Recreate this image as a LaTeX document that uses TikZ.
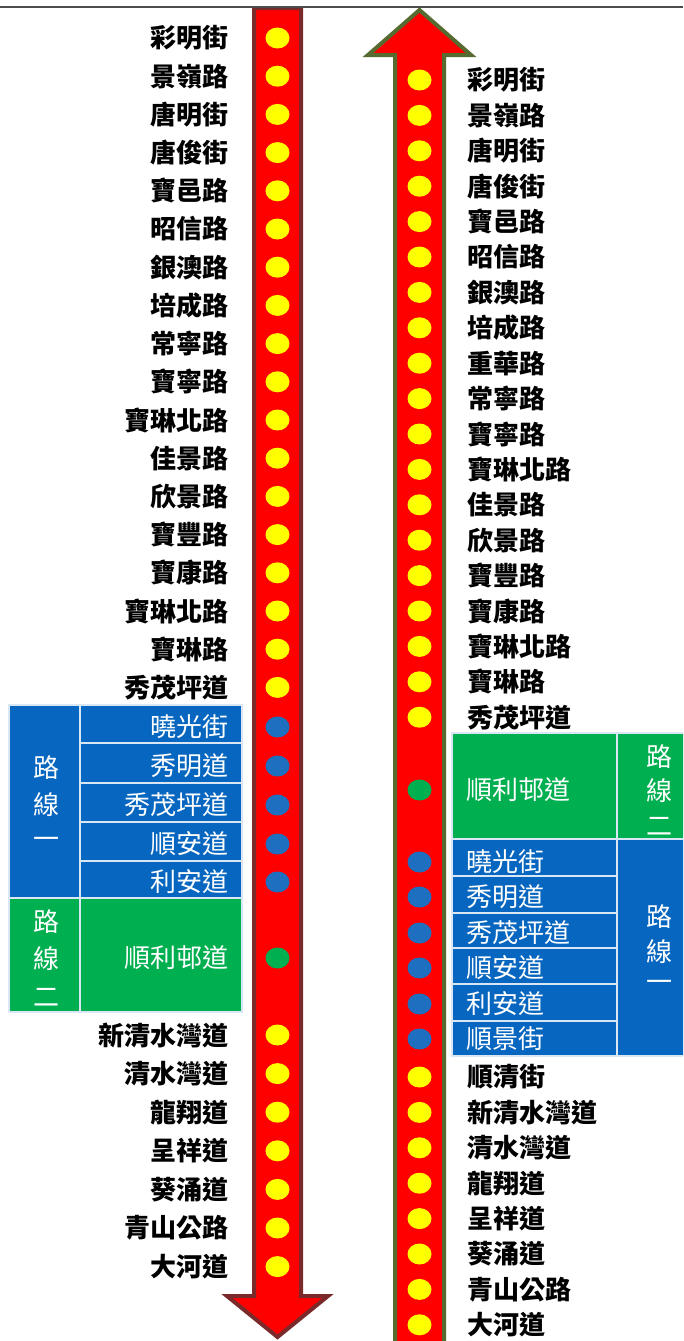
\documentclass[tikz,border=0pt]{standalone}
\usepackage{fontspec}
\newfontfamily\cjk{Noto Sans CJK TC}
\usetikzlibrary{shapes.geometric}
\definecolor{arrred}{HTML}{FF0000}
\definecolor{lborder}{HTML}{7A2A2A}
\definecolor{rborder}{HTML}{556B2F}
\definecolor{dotyellow}{HTML}{FFFF00}
\definecolor{dotblue}{HTML}{1F6FC0}
\definecolor{boxblue}{HTML}{0766BF}
\definecolor{boxgreen}{HTML}{00AF50}
\definecolor{cellline}{HTML}{D8E6F5}
\begin{document}
\begin{tikzpicture}[x=1pt,y=-1pt,
  lbl/.style={font=\cjk\bfseries\fontsize{26}{26}\selectfont, inner sep=0pt, text=black},
  wlbl/.style={font=\cjk\fontsize{26}{26}\selectfont, inner sep=0pt, text=white},
  dot/.style={ellipse, minimum width=24pt, minimum height=21pt, inner sep=0pt},
  ydot/.style={dot, fill=dotyellow},
  bdot/.style={dot, fill=dotblue},
  gdot/.style={dot, fill=boxgreen},
  bcell/.style={fill=boxblue, draw=cellline, line width=1.2pt},
  gcell/.style={fill=boxgreen, draw=cellline, line width=1.2pt}]
\useasboundingbox (0,0) rectangle (683,1341);
\clip (0,0) rectangle (683,1341);
\fill[white] (0,0) rectangle (683,1341);

% arrows
\draw[fill=arrred, draw=lborder, line width=4pt, line join=miter]
  (254,8) -- (301,8) -- (301,1296) -- (328,1296) -- (277.5,1337) -- (227,1296) -- (254,1296) -- cycle;
\draw[fill=arrred, draw=rborder, line width=4pt, line join=miter]
  (419.5,10) -- (471,55) -- (444,55) -- (444,1360) -- (395,1360) -- (395,55) -- (368,55) -- cycle;

% top line
\draw[gray!60!black, line width=1.5pt] (0,7) -- (683,7);

% ---------- left column ----------
\foreach \t [count=\i] in {彩明街,景嶺路,唐明街,唐俊街,寶邑路,昭信路,銀澳路,培成路,常寧路,寶寧路,寶琳北路,佳景路,欣景路,寶豐路,寶康路,寶琳北路,寶琳路,秀茂坪道}{
  \pgfmathsetmacro{\yy}{38+38.2*(\i-1)}
  \node[lbl, anchor=east] (L\i) at (229,\yy) {\t};
  \node[ydot] (LD\i) at (277.5,\yy) {};
}
% left blue box
\draw[bcell] (9,705) rectangle (80,898);
\foreach \a/\b in {705/743,743/783,783/822,822/861,861/898}{
  \draw[bcell] (80,\a) rectangle (242,\b);
}
\draw[gcell] (9,898) rectangle (80,1012);
\draw[gcell] (80,898) rectangle (242,1012);
\node[wlbl] (LR1a) at (46,768) {路};
\node[wlbl] (LR1b) at (46,805) {線};
\node[wlbl] (LR1c) at (46,843) {一};
\node[wlbl] (LR2a) at (46,922) {路};
\node[wlbl] (LR2b) at (46,959) {線};
\node[wlbl] (LR2c) at (46,997) {二};
\foreach \t/\yy [count=\i] in {曉光街/727,秀明道/766,秀茂坪道/805,順安道/844,利安道/882}{
  \node[wlbl, anchor=east] (LB\i) at (229,\yy) {\t};
  \node[bdot] (LBD\i) at (277.5,\yy) {};
}
\node[wlbl, anchor=east] (LG1) at (229,958) {順利邨道};
\node[gdot] (LGD1) at (277.5,958) {};
\foreach \t [count=\i] in {新清水灣道,清水灣道,龍翔道,呈祥道,葵涌道,青山公路,大河道}{
  \pgfmathsetmacro{\yy}{1035+38.6*(\i-1)}
  \node[lbl, anchor=east] (LL\i) at (229,\yy) {\t};
  \node[ydot] (LLD\i) at (277.5,\yy) {};
}

% ---------- right column ----------
\foreach \t [count=\i] in {彩明街,景嶺路,唐明街,唐俊街,寶邑路,昭信路,銀澳路,培成路,重華路,常寧路,寶寧路,寶琳北路,佳景路,欣景路,寶豐路,寶康路,寶琳北路,寶琳路,秀茂坪道}{
  \pgfmathsetmacro{\yy}{80+35.4*(\i-1)}
  \node[lbl, anchor=west] (R\i) at (467,\yy) {\t};
  \node[ydot] (RD\i) at (419.5,\yy) {};
}
% right green box
\draw[gcell] (452,733) rectangle (617,839);
\draw[gcell] (617,733) rectangle (690,839);
\node[wlbl, anchor=west] (RG1) at (466,790) {順利邨道};
\node[gdot] (RGD1) at (419.5,790) {};
\node[wlbl] (RR2a) at (659,757) {路};
\node[wlbl] (RR2b) at (659,791) {線};
\node[wlbl] (RR2c) at (659,826) {二};
% right blue box
\foreach \a/\b in {839/876,876/913,913/948,948/984,984/1021,1021/1056}{
  \draw[bcell] (452,\a) rectangle (617,\b);
}
\draw[bcell] (617,839) rectangle (690,1056);
\node[wlbl] (RR1a) at (659,917) {路};
\node[wlbl] (RR1b) at (659,952) {線};
\node[wlbl] (RR1c) at (659,986) {一};
\foreach \t/\yy [count=\i] in {曉光街/862,秀明道/897,秀茂坪道/933,順安道/968,利安道/1004,順景街/1039}{
  \node[wlbl, anchor=west] (RB\i) at (466,\yy) {\t};
  \node[bdot] (RBD\i) at (419.5,\yy) {};
}
\foreach \t [count=\i] in {順清街,新清水灣道,清水灣道,龍翔道,呈祥道,葵涌道,青山公路,大河道}{
  \pgfmathsetmacro{\yy}{1077+35.4*(\i-1)}
  \node[lbl, anchor=west] (RL\i) at (467,\yy) {\t};
  \node[ydot] (RLD\i) at (419.5,\yy) {};
}
\end{tikzpicture}
\end{document}
